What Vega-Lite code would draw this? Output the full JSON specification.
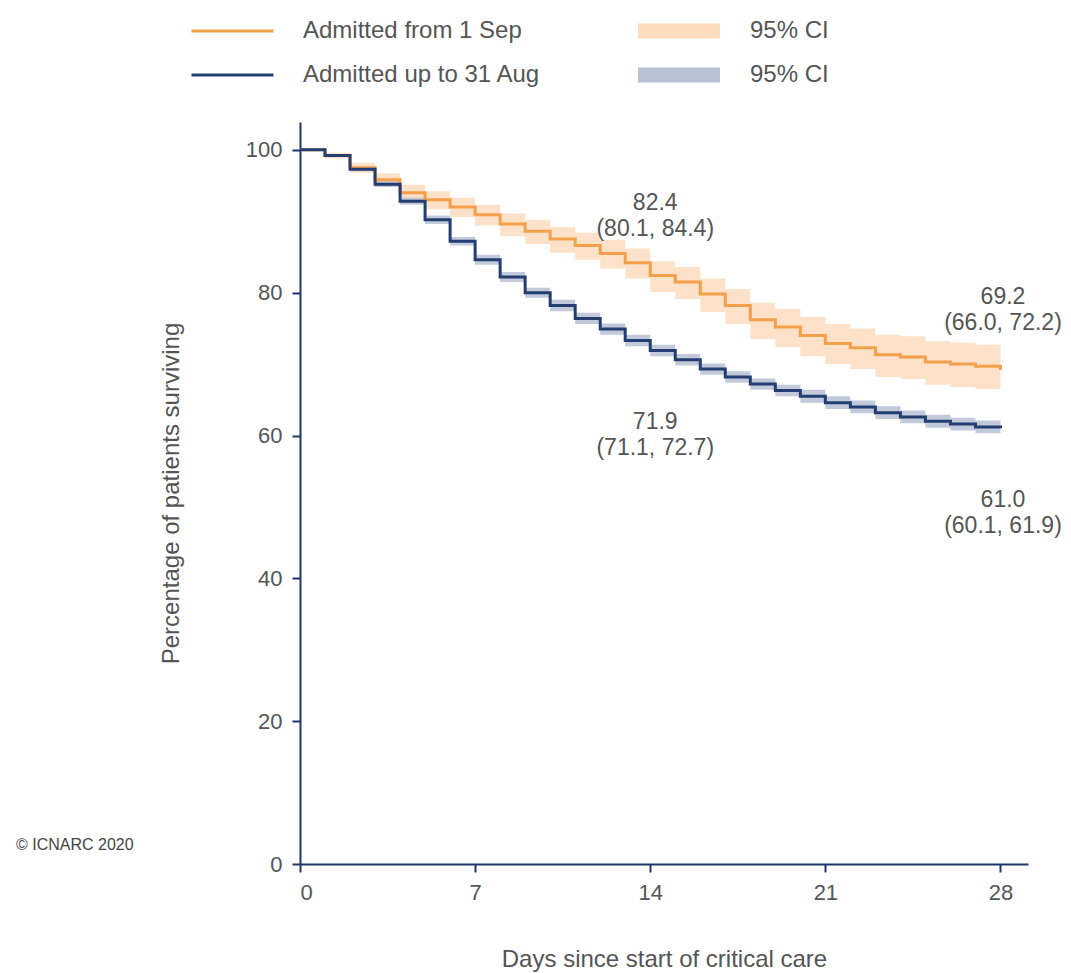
{
  "$schema": "https://vega.github.io/schema/vega-lite/v6.json",
  "width": 728,
  "height": 742,
  "autosize": {"type": "none"},
  "padding": {"left": 300, "top": 122, "right": 43, "bottom": 109},
  "background": "white",
  "config": {
    "font": "Liberation Sans",
    "view": {"stroke": null},
    "axis": {"labelFont": "Liberation Sans", "titleFont": "Liberation Sans", "labelFontSize": 22, "titleFontSize": 24, "labelColor": "#555", "titleColor": "#555", "titleFontWeight": "normal", "domainColor": "#1f3468", "tickColor": "#1f3468", "domainWidth": 2, "tickWidth": 2, "tickSize": 8, "grid": false},
    "legend": {"labelFont": "Liberation Sans", "labelFontSize": 24, "labelColor": "#555", "labelLimit": 400}
  },
  "datasets": {
    "km": [
      {"day": 0, "g": "Admitted from 1 Sep", "v": 100, "lo": 100, "hi": 100},
      {"day": 1, "g": "Admitted from 1 Sep", "v": 99.2, "lo": 98.8, "hi": 99.6},
      {"day": 2, "g": "Admitted from 1 Sep", "v": 97.5, "lo": 96.8, "hi": 98.2},
      {"day": 3, "g": "Admitted from 1 Sep", "v": 95.8, "lo": 94.8, "hi": 96.7},
      {"day": 4, "g": "Admitted from 1 Sep", "v": 94.0, "lo": 92.9, "hi": 95.1},
      {"day": 5, "g": "Admitted from 1 Sep", "v": 93.0, "lo": 91.7, "hi": 94.2},
      {"day": 6, "g": "Admitted from 1 Sep", "v": 92.0, "lo": 90.6, "hi": 93.3},
      {"day": 7, "g": "Admitted from 1 Sep", "v": 90.9, "lo": 89.4, "hi": 92.3},
      {"day": 8, "g": "Admitted from 1 Sep", "v": 89.6, "lo": 87.9, "hi": 91.1},
      {"day": 9, "g": "Admitted from 1 Sep", "v": 88.6, "lo": 86.8, "hi": 90.2},
      {"day": 10, "g": "Admitted from 1 Sep", "v": 87.5, "lo": 85.6, "hi": 89.2},
      {"day": 11, "g": "Admitted from 1 Sep", "v": 86.6, "lo": 84.6, "hi": 88.4},
      {"day": 12, "g": "Admitted from 1 Sep", "v": 85.5, "lo": 83.4, "hi": 87.4},
      {"day": 13, "g": "Admitted from 1 Sep", "v": 84.2, "lo": 82.0, "hi": 86.2},
      {"day": 14, "g": "Admitted from 1 Sep", "v": 82.4, "lo": 80.1, "hi": 84.4},
      {"day": 15, "g": "Admitted from 1 Sep", "v": 81.5, "lo": 79.1, "hi": 83.6},
      {"day": 16, "g": "Admitted from 1 Sep", "v": 79.8, "lo": 77.3, "hi": 82.0},
      {"day": 17, "g": "Admitted from 1 Sep", "v": 78.2, "lo": 75.6, "hi": 80.5},
      {"day": 18, "g": "Admitted from 1 Sep", "v": 76.2, "lo": 73.5, "hi": 78.6},
      {"day": 19, "g": "Admitted from 1 Sep", "v": 75.2, "lo": 72.4, "hi": 77.7},
      {"day": 20, "g": "Admitted from 1 Sep", "v": 74.0, "lo": 71.1, "hi": 76.6},
      {"day": 21, "g": "Admitted from 1 Sep", "v": 72.9, "lo": 70.0, "hi": 75.6},
      {"day": 22, "g": "Admitted from 1 Sep", "v": 72.3, "lo": 69.3, "hi": 75.0},
      {"day": 23, "g": "Admitted from 1 Sep", "v": 71.3, "lo": 68.2, "hi": 74.1},
      {"day": 24, "g": "Admitted from 1 Sep", "v": 71.0, "lo": 67.9, "hi": 73.9},
      {"day": 25, "g": "Admitted from 1 Sep", "v": 70.3, "lo": 67.1, "hi": 73.2},
      {"day": 26, "g": "Admitted from 1 Sep", "v": 70.0, "lo": 66.8, "hi": 73.0},
      {"day": 27, "g": "Admitted from 1 Sep", "v": 69.7, "lo": 66.5, "hi": 72.7},
      {"day": 28, "g": "Admitted from 1 Sep", "v": 69.2, "lo": 66.0, "hi": 72.2},
      {"day": 0, "g": "Admitted up to 31 Aug", "v": 100, "lo": 100, "hi": 100},
      {"day": 1, "g": "Admitted up to 31 Aug", "v": 99.2, "lo": 99.0, "hi": 99.4},
      {"day": 2, "g": "Admitted up to 31 Aug", "v": 97.3, "lo": 97.0, "hi": 97.6},
      {"day": 3, "g": "Admitted up to 31 Aug", "v": 95.2, "lo": 94.8, "hi": 95.6},
      {"day": 4, "g": "Admitted up to 31 Aug", "v": 92.8, "lo": 92.3, "hi": 93.3},
      {"day": 5, "g": "Admitted up to 31 Aug", "v": 90.2, "lo": 89.6, "hi": 90.8},
      {"day": 6, "g": "Admitted up to 31 Aug", "v": 87.2, "lo": 86.6, "hi": 87.8},
      {"day": 7, "g": "Admitted up to 31 Aug", "v": 84.6, "lo": 83.9, "hi": 85.3},
      {"day": 8, "g": "Admitted up to 31 Aug", "v": 82.2, "lo": 81.5, "hi": 82.9},
      {"day": 9, "g": "Admitted up to 31 Aug", "v": 80.0, "lo": 79.3, "hi": 80.7},
      {"day": 10, "g": "Admitted up to 31 Aug", "v": 78.2, "lo": 77.4, "hi": 79.0},
      {"day": 11, "g": "Admitted up to 31 Aug", "v": 76.4, "lo": 75.6, "hi": 77.2},
      {"day": 12, "g": "Admitted up to 31 Aug", "v": 74.9, "lo": 74.1, "hi": 75.7},
      {"day": 13, "g": "Admitted up to 31 Aug", "v": 73.3, "lo": 72.5, "hi": 74.1},
      {"day": 14, "g": "Admitted up to 31 Aug", "v": 71.9, "lo": 71.1, "hi": 72.7},
      {"day": 15, "g": "Admitted up to 31 Aug", "v": 70.6, "lo": 69.8, "hi": 71.4},
      {"day": 16, "g": "Admitted up to 31 Aug", "v": 69.3, "lo": 68.5, "hi": 70.1},
      {"day": 17, "g": "Admitted up to 31 Aug", "v": 68.2, "lo": 67.4, "hi": 69.0},
      {"day": 18, "g": "Admitted up to 31 Aug", "v": 67.2, "lo": 66.4, "hi": 68.0},
      {"day": 19, "g": "Admitted up to 31 Aug", "v": 66.3, "lo": 65.5, "hi": 67.1},
      {"day": 20, "g": "Admitted up to 31 Aug", "v": 65.5, "lo": 64.6, "hi": 66.4},
      {"day": 21, "g": "Admitted up to 31 Aug", "v": 64.6, "lo": 63.7, "hi": 65.5},
      {"day": 22, "g": "Admitted up to 31 Aug", "v": 64.0, "lo": 63.1, "hi": 64.9},
      {"day": 23, "g": "Admitted up to 31 Aug", "v": 63.2, "lo": 62.3, "hi": 64.1},
      {"day": 24, "g": "Admitted up to 31 Aug", "v": 62.6, "lo": 61.7, "hi": 63.5},
      {"day": 25, "g": "Admitted up to 31 Aug", "v": 62.0, "lo": 61.1, "hi": 62.9},
      {"day": 26, "g": "Admitted up to 31 Aug", "v": 61.6, "lo": 60.7, "hi": 62.5},
      {"day": 27, "g": "Admitted up to 31 Aug", "v": 61.2, "lo": 60.3, "hi": 62.1},
      {"day": 28, "g": "Admitted up to 31 Aug", "v": 61.0, "lo": 60.1, "hi": 61.9}
    ],
    "notes": [
      {"day": 14.2, "v": 92.6, "label": "82.4\n(80.1, 84.4)"},
      {"day": 28.1, "v": 79.4, "label": "69.2\n(66.0, 72.2)"},
      {"day": 14.2, "v": 61.9, "label": "71.9\n(71.1, 72.7)"},
      {"day": 28.1, "v": 51.0, "label": "61.0\n(60.1, 61.9)"}
    ]
  },
  "layer": [
    {
      "data": {"name": "km"},
      "transform": [{"calculate": "datum.g == 'Admitted from 1 Sep' ? 'ci_sep' : 'ci_aug'", "as": "ci"}],
      "mark": {"type": "area", "interpolate": "step-after", "opacity": 0.85},
      "encoding": {
        "x": {"field": "day", "type": "quantitative", "scale": {"domain": [0, 29.1], "nice": false}, "axis": {"values": [0, 7, 14, 21, 28], "title": "Days since start of critical care", "titlePadding": 44, "labelPadding": 10}},
        "y": {"field": "lo", "type": "quantitative", "scale": {"domain": [0, 103.9], "nice": false}, "axis": {"values": [0, 20, 40, 60, 80, 100], "title": "Percentage of patients surviving", "titlePadding": 62, "labelPadding": 10}},
        "y2": {"field": "hi"},
        "fill": {"field": "ci", "type": "nominal", "scale": {"domain": ["ci_sep", "ci_aug"], "range": ["#FDDCBE", "#B7C0D4"]},
          "legend": {"title": null, "orient": "none", "legendX": 338, "legendY": -104, "labelExpr": "'95% CI'", "symbolType": "M-1,-0.18H1V0.18H-1Z", "symbolSize": 6724, "symbolOpacity": 1, "symbolStrokeWidth": 0, "clipHeight": 26, "rowPadding": 18, "labelOffset": 30}}
      }
    },
    {
      "data": {"name": "km"},
      "mark": {"type": "line", "interpolate": "step-after", "strokeWidth": 3},
      "encoding": {
        "x": {"field": "day", "type": "quantitative"},
        "y": {"field": "v", "type": "quantitative"},
        "color": {"field": "g", "type": "nominal", "scale": {"domain": ["Admitted from 1 Sep", "Admitted up to 31 Aug"], "range": ["#F4A04A", "#253E72"]},
          "legend": {"title": null, "orient": "none", "legendX": -110, "legendY": -104, "symbolType": "stroke", "symbolSize": 6724, "symbolStrokeWidth": 3, "clipHeight": 26, "rowPadding": 18, "labelOffset": 28}}
      }
    },
    {
      "data": {"name": "notes"},
      "mark": {"type": "text", "fontSize": 23, "color": "#555", "lineBreak": "\n", "align": "center", "baseline": "middle", "lineHeight": 26},
      "encoding": {
        "x": {"field": "day", "type": "quantitative"},
        "y": {"field": "v", "type": "quantitative"},
        "text": {"field": "label"}
      }
    },
    {
      "data": {"values": [{"day": -9, "v": 2.7, "label": "© ICNARC 2020"}]},
      "mark": {"type": "text", "fontSize": 16, "color": "#444", "align": "center", "baseline": "middle"},
      "encoding": {
        "x": {"field": "day", "type": "quantitative"},
        "y": {"field": "v", "type": "quantitative"},
        "text": {"field": "label"}
      }
    }
  ]
}
